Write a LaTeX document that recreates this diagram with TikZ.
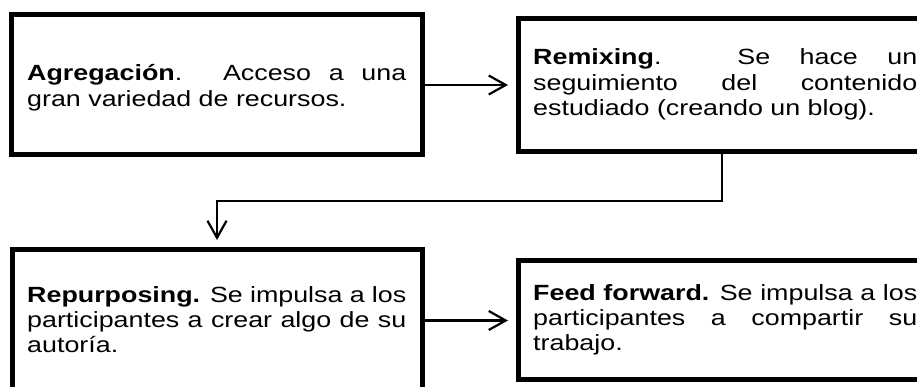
\documentclass[tikz,border=0pt]{standalone}
\usepackage{fontspec}
\usepackage{graphicx}
\setmainfont{Liberation Sans}
\usetikzlibrary{arrows.meta, positioning}

% justified text, widened like the source
\newcommand{\stagepar}[2]{\scalebox{1.22}[1]{\parbox[t]{#1}{#2}}}

\begin{document}
\begin{tikzpicture}[x=1pt, y=-1pt]
\tikzstyle{stagebox} = [rectangle, draw=black, line width=5pt, inner sep=0pt, outer sep=0pt, anchor=north west]
\tikzstyle{stagetext} = [anchor=base west, inner sep=0pt, font={\fontsize{22}{25.3}\selectfont\tolerance=10000 \hyphenpenalty=10000 }]
\tikzstyle{arrow} = [line width=2.2pt, -{Straight Barb[length=17pt, width=19pt]}]

\useasboundingbox (0,0) rectangle (917,387);
\clip (0,0) rectangle (917,387);

\node (agreg) [stagebox, minimum width=411pt, minimum height=140pt] at (11,15) {};
\node (remix) [stagebox, minimum width=418pt, minimum height=133pt] at (518,19) {};
\node (repurp) [stagebox, minimum width=410pt, minimum height=143pt] at (12,249) {};
\node (feed) [stagebox, minimum width=418pt, minimum height=119pt] at (518,260) {};

\node (agregtxt) [stagetext] at (27,81) {\stagepar{310.7pt}{\textbf{Agregación}. Acceso a una\linebreak gran variedad de recursos.}};
\node (remixtxt) [stagetext] at (533,65) {\stagepar{314.8pt}{\textbf{Remixing}. Se hace un\linebreak seguimiento del contenido\linebreak estudiado (creando un blog).}};
\node (repurptxt) [stagetext] at (27,302) {\stagepar{310.7pt}{\textbf{Repurposing.} Se impulsa a los\linebreak participantes a crear algo de su\linebreak autoría.}};
\node (feedtxt) [stagetext] at (533,300) {\stagepar{314.8pt}{\textbf{Feed forward.} Se impulsa a los\linebreak participantes a compartir su\linebreak trabajo.}};

\coordinate (bend) at (722,200.7);

\draw [arrow, shorten >=10pt] (agreg.east) -- (agreg.east -| remix.west);
\draw [arrow, shorten >=9pt] (remix.south -| bend) -- (bend) -| (repurp.north);
\draw [arrow, shorten >=10pt] (repurp.east) -- (repurp.east -| feed.west);

\end{tikzpicture}
\end{document}
